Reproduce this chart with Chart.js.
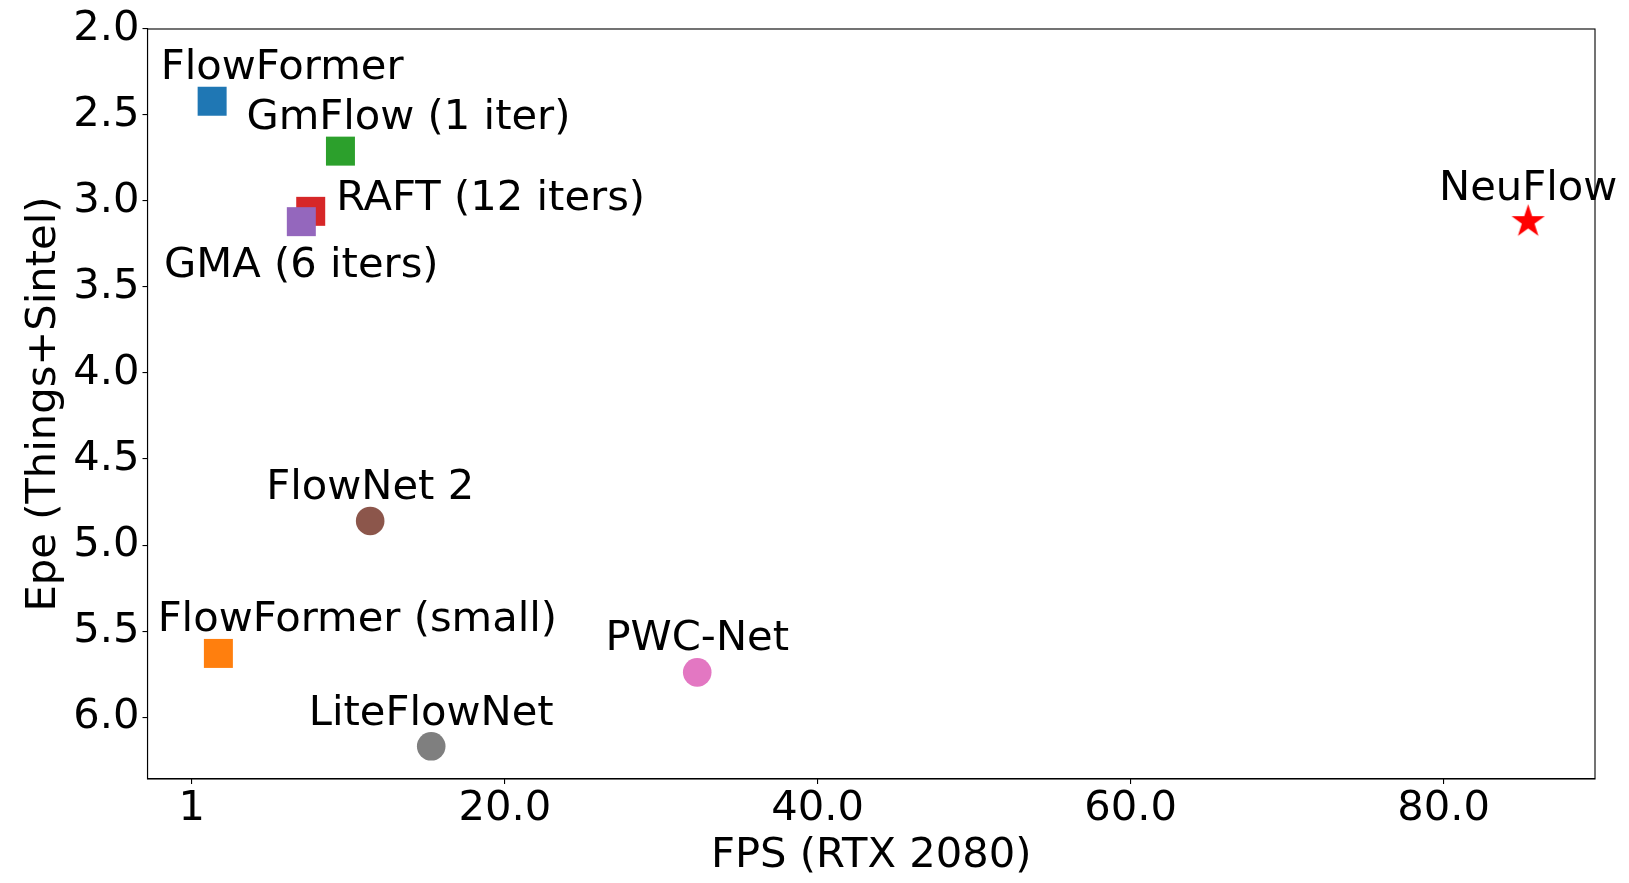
<!DOCTYPE html>
<html>
<head>
<meta charset="utf-8">
<title>Epe vs FPS</title>
<script src="https://cdn.jsdelivr.net/npm/chart.js@4.4.1/dist/chart.umd.min.js"></script>
<style>
    body { margin: 0; background: #fff; overflow: hidden; }
    canvas { display: block; }
</style>
</head>
<body>
<canvas id="myChart" width="1629" height="883"></canvas>
<script>
'use strict';

// ======= DATA ==========
var methods = ['FlowFormer', 'FlowFormer (small)', 'GmFlow (1 iter)', 'RAFT (12 iters)', 'GMA (6 iters)',
    'FlowNet 2', 'PWC-Net', 'LiteFlowNet', 'NeuFlow'];
var fps = [1.3, 1.7, 9.5, 7.6, 7.0, 11.4, 32.3, 15.3, 85.4];
var epe = [2.42, 5.63, 2.71, 3.06, 3.12, 4.86, 5.74, 6.17, 3.12];
var xTickValues = [0, 20, 40, 60, 80];
var xTickLabels = ['1', '20.0', '40.0', '60.0', '80.0'];
var yTickValues = [2.0, 2.5, 3.0, 3.5, 4.0, 4.5, 5.0, 5.5, 6.0];

// ======= STYLE ==========
var colors = ['#1f77b4', '#ff7f0e', '#2ca02c', '#d62728', '#9467bd', '#8c564b', '#e377c2', '#7f7f7f', '#ff0000'];
var shapes = ['rect', 'rect', 'rect', 'rect', 'rect', 'circle', 'circle', 'circle', 'star'];
// label offset from the marker: [dx of text centre, dy of baseline]
var labelOffsets = [[70, -22], [139, -22], [68, -22], [180, -1], [0, 55], [0, -22], [0, -22], [0, -21], [0, -22]];

var FONT = 'DejaVu Sans';
var FS = 41.67;

Chart.defaults.font.family = FONT;
Chart.defaults.color = '#000';

// filled star (matplotlib '*' marker)
function makeStar(color, R) {
    var c = document.createElement('canvas');
    c.width = Math.ceil(R * 2 + 2);
    c.height = Math.ceil(R * 2 + 2);
    var g = c.getContext('2d');
    var cx = c.width / 2, cy = c.height / 2;
    var r = R * 0.382;
    g.beginPath();
    for (var k = 0; k < 10; k++) {
        var rad = k % 2 === 0 ? R : r;
        var a = -Math.PI / 2 + k * Math.PI / 5;
        var px = cx + rad * Math.cos(a), py = cy + rad * Math.sin(a);
        if (k === 0) g.moveTo(px, py); else g.lineTo(px, py);
    }
    g.closePath();
    g.fillStyle = color;
    g.fill();
    return c;
}

var pointStyles = [];
var radii = [];
for (var i = 0; i < shapes.length; i++) {
    if (shapes[i] === 'star') {
        pointStyles.push(makeStar(colors[i], 17.5));
        radii.push(17);
    } else if (shapes[i] === 'rect') {
        pointStyles.push('rect');
        radii.push(20.5);
    } else {
        pointStyles.push('circle');
        radii.push(14.3);
    }
}

var points = fps.map(function (v, i) { return {x: v, y: epe[i]}; });

// frame + method names
var labelPlugin = {
    id: 'labels',
    beforeDatasetsDraw: function (chart) {
        var a = chart.chartArea;
        var ctx = chart.ctx;
        ctx.save();
        ctx.strokeStyle = '#000';
        ctx.lineWidth = 1.1;
        ctx.strokeRect(a.left, a.top, a.right - a.left, a.bottom - a.top);
        ctx.restore();
    },
    afterDatasetsDraw: function (chart) {
        var ctx = chart.ctx;
        var meta = chart.getDatasetMeta(0);
        ctx.save();
        ctx.font = FS + 'px "' + FONT + '"';
        ctx.fillStyle = '#000';
        ctx.textAlign = 'center';
        ctx.textBaseline = 'alphabetic';
        for (var i = 0; i < methods.length; i++) {
            var el = meta.data[i];
            ctx.fillText(methods[i], el.x + labelOffsets[i][0], el.y + labelOffsets[i][1]);
        }
        ctx.restore();
    }
};

var ctx = document.getElementById('myChart').getContext('2d');

var chart = new Chart(ctx, {
    type: 'scatter',
    data: {
        datasets: [{
            data: points,
            pointStyle: pointStyles,
            pointRadius: radii,
            pointBackgroundColor: colors,
            pointBorderWidth: 0,
            clip: false
        }]
    },
    options: {
        responsive: false,
        animation: false,
        events: [],
        layout: {
            padding: {top: 29, right: 34, left: 0, bottom: 0}
        },
        plugins: {
            legend: {display: false},
            tooltip: {enabled: false}
        },
        scales: {
            x: {
                type: 'linear',
                min: -2.83,
                max: 89.67,
                afterBuildTicks: function (scale) {
                    scale.ticks = xTickValues.map(function (v) { return {value: v}; });
                },
                afterFit: function (scale) {
                    scale.height = 104;
                },
                ticks: {
                    font: {size: FS},
                    padding: 0,
                    maxRotation: 0,
                    autoSkip: false,
                    callback: function (value) {
                        return xTickLabels[xTickValues.indexOf(value)];
                    }
                },
                grid: {drawOnChartArea: false, tickLength: 5, color: '#000', lineWidth: 1.1},
                border: {color: '#000', width: 1.1},
                title: {
                    display: true,
                    text: 'FPS (RTX 2080)',
                    font: {size: FS},
                    padding: {top: 0, bottom: 2}
                }
            },
            y: {
                type: 'linear',
                reverse: true,
                min: 2.0,
                max: 6.36,
                afterBuildTicks: function (scale) {
                    scale.ticks = yTickValues.map(function (v) { return {value: v}; });
                },
                afterFit: function (scale) {
                    scale.width = 147.5;
                },
                ticks: {
                    font: {size: FS},
                    padding: 3,
                    autoSkip: false,
                    callback: function (value) { return value.toFixed(1); }
                },
                grid: {drawOnChartArea: false, tickLength: 5, color: '#000', lineWidth: 1.1},
                border: {color: '#000', width: 1.1},
                title: {
                    display: true,
                    text: 'Epe (Things+Sintel)',
                    font: {size: FS},
                    padding: {top: 19, bottom: 0}
                }
            }
        }
    },
    plugins: [labelPlugin]
});
</script>
</body>
</html>
